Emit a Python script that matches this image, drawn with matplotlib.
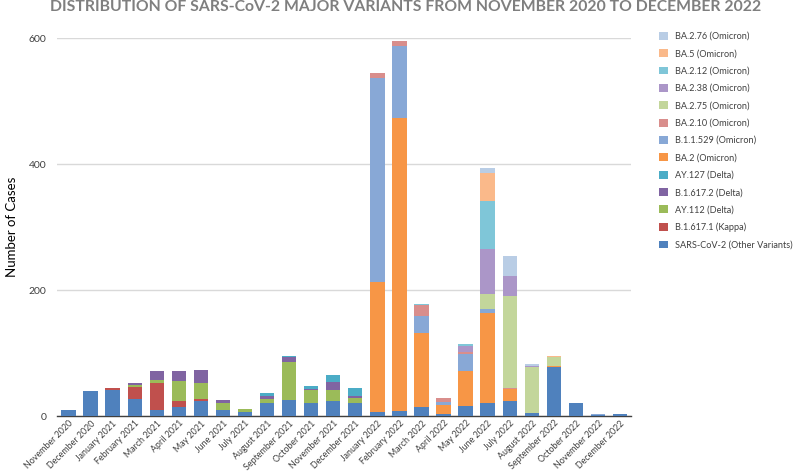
import matplotlib
matplotlib.use("Agg")
import matplotlib.pyplot as plt
import numpy as np

months = ["November 2020", "December 2020", "January 2021", "February 2021", "March 2021",
          "April 2021", "May 2021", "June 2021", "July 2021", "August 2021",
          "September 2021", "October 2021", "November 2021", "December 2021",
          "January 2022", "February 2022", "March 2022", "April 2022", "May 2022",
          "June 2022", "July 2022", "August 2022", "September 2022", "October 2022",
          "November 2022", "December 2022"]

other     = [9, 40, 42, 27, 10, 15, 24, 10, 7, 21, 26, 20, 24, 20, 7, 8, 15, 3, 16, 21, 24, 4, 78, 20, 2, 3]
b16171    = [0, 0, 2, 19, 42, 9, 3, 0, 0, 0, 0, 0, 0, 0, 0, 0, 0, 0, 0, 0, 0, 0, 0, 0, 0, 0]
ay112     = [0, 0, 0, 4, 5, 32, 25, 11, 4, 6, 60, 22, 18, 9, 0, 0, 0, 0, 0, 0, 0, 0, 0, 0, 0, 0]
b16172    = [0, 0, 0, 2, 15, 15, 21, 4, 0, 5, 7, 1, 12, 2, 0, 0, 0, 0, 0, 0, 0, 0, 0, 0, 0, 0]
ay127     = [0, 0, 0, 0, 0, 0, 0, 0, 0, 4, 2, 5, 11, 13, 0, 0, 0, 0, 0, 0, 0, 0, 0, 0, 0, 0]
ba2       = [0, 0, 0, 0, 0, 0, 0, 0, 0, 0, 0, 0, 0, 0, 206, 465, 116, 14, 56, 142, 19, 0, 2, 0, 0, 0]
b11529    = [0, 0, 0, 0, 0, 0, 0, 0, 0, 0, 0, 0, 0, 0, 324, 115, 27, 6, 26, 7, 0, 0, 0, 0, 1, 0]
ba210     = [0, 0, 0, 0, 0, 0, 0, 0, 0, 0, 0, 0, 0, 0, 8, 7, 18, 5, 4, 0, 1, 0, 0, 0, 0, 0]
ba275     = [0, 0, 0, 0, 0, 0, 0, 0, 0, 0, 0, 0, 0, 0, 0, 0, 0, 0, 0, 24, 146, 74, 14, 1, 0, 0]
ba238     = [0, 0, 0, 0, 0, 0, 0, 0, 0, 0, 0, 0, 0, 0, 0, 0, 0, 0, 9, 71, 32, 2, 0, 0, 0, 0]
ba212     = [0, 0, 0, 0, 0, 0, 0, 0, 0, 0, 0, 0, 0, 0, 0, 0, 2, 0, 4, 76, 0, 0, 0, 0, 0, 0]
ba5       = [0, 0, 0, 0, 0, 0, 0, 0, 0, 0, 0, 0, 0, 0, 0, 0, 0, 0, 0, 44, 0, 0, 2, 0, 0, 0]
ba276     = [0, 0, 0, 0, 0, 0, 0, 0, 0, 0, 0, 0, 0, 0, 0, 0, 0, 0, 0, 8, 32, 3, 0, 0, 0, 0]

series_names = ["SARS-CoV-2 (Other Variants)", "B.1.617.1 (Kappa)", "AY.112 (Delta)",
                "B.1.617.2 (Delta)", "AY.127 (Delta)", "BA.2 (Omicron)", "B.1.1.529 (Omicron)",
                "BA.2.10 (Omicron)", "BA.2.75 (Omicron)", "BA.2.38 (Omicron)",
                "BA.2.12 (Omicron)", "BA.5 (Omicron)", "BA.2.76 (Omicron)"]
series_vals = [other, b16171, ay112, b16172, ay127, ba2, b11529, ba210, ba275, ba238,
               ba212, ba5, ba276]
colors = ["#4f81bd", "#c0504d", "#9bbb59", "#8064a2", "#4bacc6", "#f79646", "#88a8d6",
          "#d98e8c", "#c3d69b", "#ab96c8", "#7fc6d8", "#fab98a", "#b9cde5"]

plt.rcParams['font.family'] = ['Lato', 'DejaVu Sans']

fig = plt.figure(figsize=(7.96, 4.73), dpi=100)
ax = fig.add_axes([57.5 / 796, 57 / 473, (631 - 57.5) / 796, (416 - 38) / 473])

x = np.arange(len(months))
bottom = np.zeros(len(months))
handles = []
for name, vals, c in zip(series_names, series_vals, colors):
    v = np.array(vals, dtype=float)
    h = ax.bar(x, v, 0.65, bottom=bottom, color=c, label=name, zorder=3)
    handles.append(h)
    bottom += v

ax.set_xlim(-0.5, len(months) - 0.5)
ax.set_ylim(0, 600)
ax.set_yticks([0, 200, 400, 600])
ax.grid(axis='y', color='#d9d9d9', linewidth=1, zorder=0)
for s in ['top', 'right', 'left']:
    ax.spines[s].set_visible(False)
ax.spines['bottom'].set_color('#404040')
ax.spines['bottom'].set_linewidth(1)
ax.tick_params(axis='y', length=0, labelsize=7.5, colors='#404040', pad=8)
ax.tick_params(axis='x', length=0, labelsize=6.4, colors='#404040', pad=2)
ax.set_xticks(x)
ax.set_xticklabels(months, rotation=45, ha='right', rotation_mode='anchor')

fig.text(12 / 796, 1 - 227 / 473, "Number of Cases", rotation=90, ha='center',
         va='center', fontsize=9.5, color='#000000')

ax.legend(handles[::-1], series_names[::-1], loc='upper left',
          bbox_to_anchor=(657 / 796, 1 - 30 / 473), bbox_transform=fig.transFigure,
          frameon=False, fontsize=6.6, handlelength=0.95, handleheight=0.95,
          labelspacing=0.9, handletextpad=0.8, labelcolor='#404040',
          borderaxespad=0, borderpad=0.2)

fig.text(406 / 796, 1 - 7 / 473,
         "DISTRIBUTION OF SARS-CoV-2 MAJOR VARIANTS FROM NOVEMBER 2020 TO DECEMBER 2022",
         ha='center', va='center', fontsize=11.3, fontweight='bold', color='#7f7f7f')

fig.savefig("out.png", dpi=100)
